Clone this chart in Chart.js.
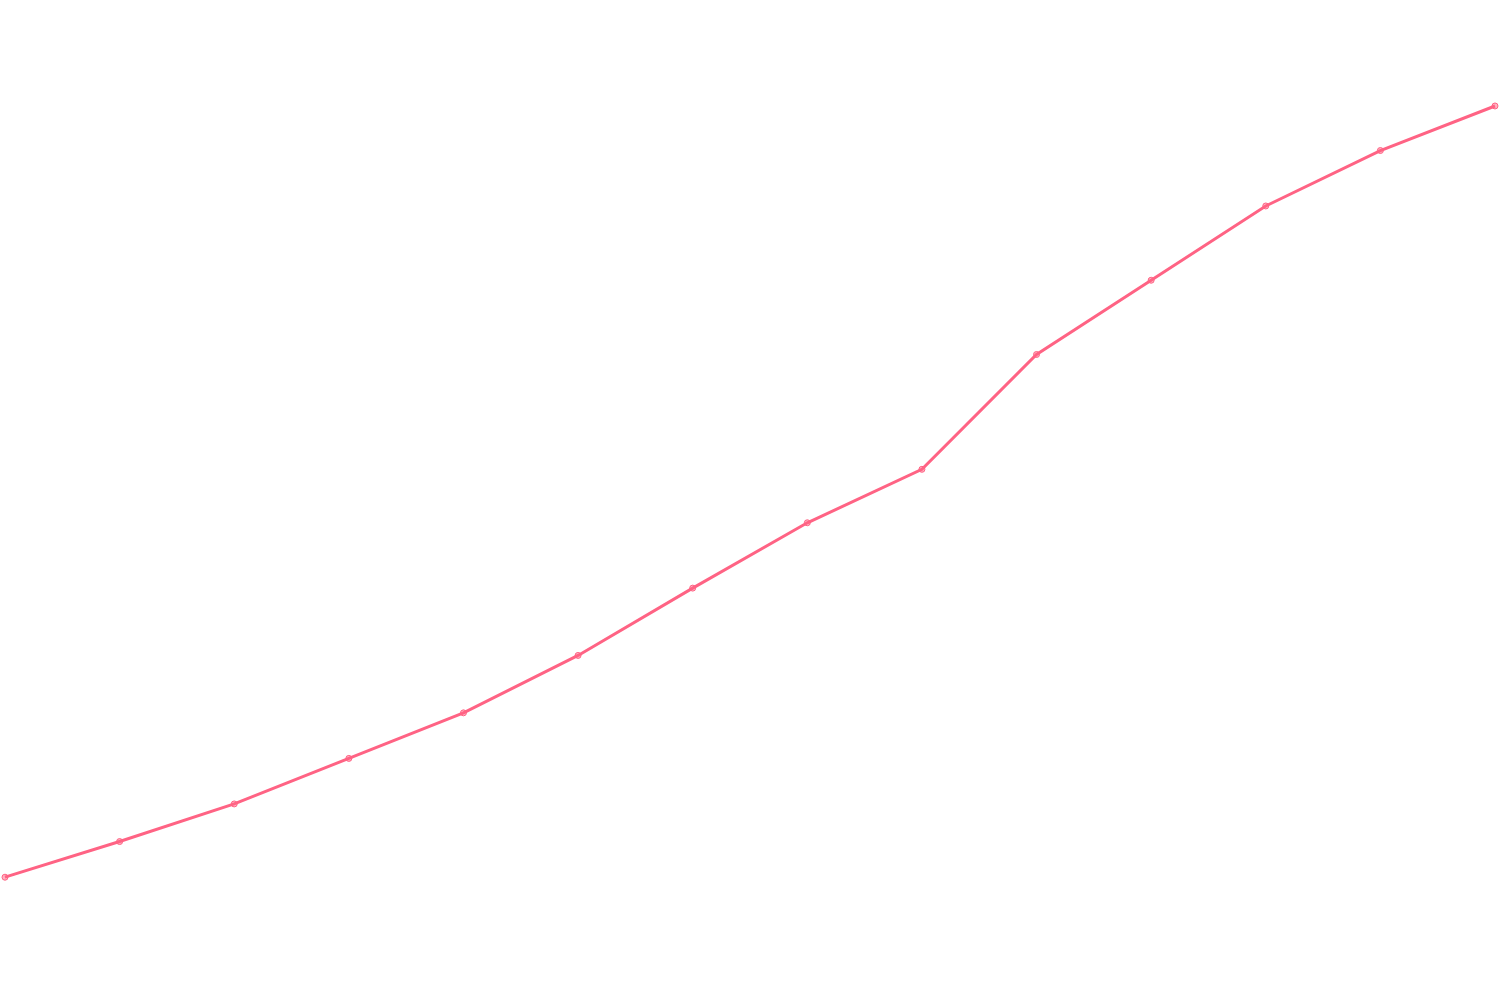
<!DOCTYPE html>
<html>
<head>
<meta charset="utf-8">
<script src="https://cdn.jsdelivr.net/npm/chart.js@4"></script>
<style>
  html, body { margin: 0; padding: 0; background: #fff; }
  #wrap { width: 1500px; height: 1000px; }
</style>
</head>
<body>
<div id="wrap"><canvas id="chart1"></canvas></div>
<script>
// categories (not shown on the chart)
const labels = ["1", "2", "3", "4", "5", "6", "7", "8", "9", "10", "11", "12", "13", "14"];
// series values
const values = [11.9, 15.5, 19.3, 23.9, 28.5, 34.3, 41.1, 47.7, 53.1, 64.7, 72.2, 79.7, 85.3, 89.8];
const yMin = 0;
const yMax = 100;

const ctx = document.getElementById("chart1").getContext("2d");
new Chart(ctx, {
  type: "line",
  data: {
    labels,
    datasets: [
      {
        data: values,
        borderColor: "rgb(255, 99, 132)",
        backgroundColor: "rgba(255, 99, 132, 0.5)",
        borderWidth: 3,
        pointRadius: 3,
        pointBorderWidth: 1,
        tension: 0,
      },
    ],
  },
  options: {
    responsive: true,
    maintainAspectRatio: false,
    animation: false,
    plugins: {
      legend: { display: false },
      tooltip: { enabled: false },
    },
    scales: {
      x: { display: false },
      y: { display: false, min: yMin, max: yMax },
    },
  },
});
</script>
</body>
</html>
